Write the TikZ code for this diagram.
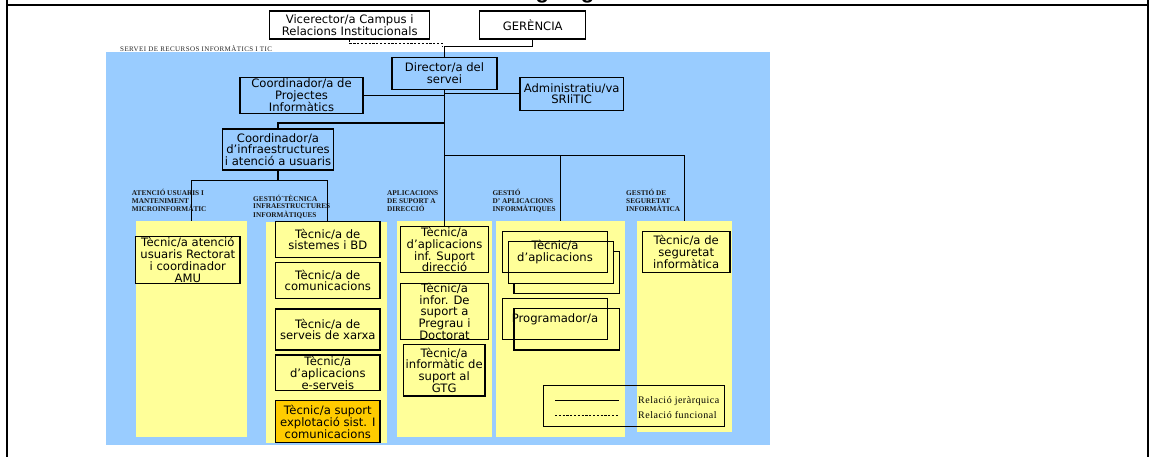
\documentclass[tikz,border=0pt]{standalone}
\usepackage{fontspec}
\setmainfont{Liberation Serif}
\newfontfamily\postfont{DejaVu Sans}
\newfontfamily\capfont{Liberation Serif}
\newfontfamily\servicefont[LetterSpace=6]{Liberation Serif}
\newfontfamily\legendfont[LetterSpace=5]{Liberation Serif}
\newfontfamily\headingfont{Liberation Sans}

\definecolor{areablue}{HTML}{99CCFF}
\definecolor{colyellow}{HTML}{FFFF99}
\definecolor{supportorange}{HTML}{FFCC00}

\tikzset{
  pageframe/.style={line width=2pt, draw=black},
  area/.style={fill=areablue, draw=none, inner sep=0pt},
  column/.style={fill=colyellow, draw=none, inner sep=0pt},
  post/.style={draw=black, line width=1.2pt, inner sep=0pt},
  posttext/.style={align=center, inner sep=0pt, text=black,
    font=\postfont\fontsize{11.6}{11.8}\selectfont},
  link/.style={draw=black, line width=1.1pt},
  func/.style={link, dash pattern=on 2.2pt off 1.6pt},
  colhead/.style={anchor=base west, inner sep=0pt, text=black!90,
    font=\capfont\bfseries\fontsize{7.3}{7.8}\selectfont},
  legendtext/.style={anchor=base west, inner sep=0pt, text=black,
    font=\legendfont\fontsize{10}{12}\selectfont},
}

% framed post: name, centre x, centre y, width, height, text
\newcommand\orgbox[7][]{%
  \node[post,#1,minimum width=#5pt,minimum height=#6pt] (#2) at (#3,#4) {};
  \node[posttext] (#2-txt) at (#2) {#7};
}
\newcommand\headlines[1]{\begin{tabular}[t]{@{}l@{}}#1\end{tabular}}

\begin{document}
\begin{tikzpicture}[x=1pt,y=-1pt]
\useasboundingbox (0,0) rectangle (1150,457);

% heading row of the table cell
\begin{scope}
  \clip (0,0) rectangle (1150,457);
  \node[anchor=base west, inner sep=0pt,
    font=\headingfont\bfseries\fontsize{22}{24}\selectfont] (title) at (509.8,-1.2) {Organigrama};
\end{scope}
\draw[pageframe] (6.5,0) -- (6.5,457);
\draw[pageframe] (1147.5,0) -- (1147.5,457);
\draw[pageframe] (6.5,5) -- (1147.5,5);

% service area and its label
\node[area, minimum width=664pt, minimum height=393pt] (service) at (438,248.5) {};
\node[anchor=base west, inner sep=0pt, text=black!85,
  font=\servicefont\fontsize{7}{8}\selectfont] (servicelabel) at (120,51.3)
  {SERVEI DE RECURSOS INFORMÀTICS I TIC};

% unit columns
\node[column, minimum width=111pt, minimum height=216pt] (col1) at (191.5,329) {};
\node[column, minimum width=120.7pt, minimum height=221.6pt] (col2) at (326.3,332.5) {};
\node[column, minimum width=94.4pt, minimum height=215.7pt] (col3) at (444.5,328.8) {};
\node[column, minimum width=129pt, minimum height=215.7pt] (col4) at (560.5,328.8) {};
\node[column, minimum width=94.4pt, minimum height=210.7pt] (col5) at (684.5,326.3) {};

% unit headings
\node[colhead] (h1) at (131.7,195.3) {\headlines{ATENCIÓ USUARIS I\\MANTENIMENT\\MICROINFORMÀTIC}};
\node[colhead] (h2) at (253,201) {\headlines{GESTIÓ´TÈCNICA\\INFRAESTRUCTURES\\INFORMÀTIQUES}};
\node[colhead] (h3) at (387,195.3) {\headlines{APLICACIONS\\DE SUPORT A\\DIRECCIÓ}};
\node[colhead] (h4) at (492.3,195.3) {\headlines{GESTIÓ\\D’ APLICACIONS\\INFORMÀTIQUES}};
\node[colhead] (h5) at (626,195.3) {\headlines{GESTIÓ DE\\SEGURETAT\\INFORMÀTICA}};

% top of the hierarchy
\orgbox{vice}{349.7}{25}{160}{28}{Vicerector/a Campus i\\Relacions Institucionals}
\orgbox{ger}{532.7}{25}{106}{28}{GERÈNCIA}
\orgbox{dir}{444.5}{73.3}{105}{32}{Director/a del\\servei}
\orgbox{adm}{571.7}{93.7}{103.3}{33}{Administratiu/va\\SRIiTIC}
\orgbox{cproj}{301.5}{95.3}{123}{36}{Coordinador/a de\\Projectes\\Informàtics}
\orgbox{cinf}{278}{149.5}{110.7}{41}{Coordinador/a\\d’infraestructures\\i atenció a usuaris}

% user support
\orgbox{amu}{187.8}{260}{104.3}{46.7}{Tècnic/a atenció\\usuaris Rectorat\\i coordinador\\AMU}

% infrastructure management
\orgbox{sis}{327.8}{239.5}{104.3}{35.7}{Tècnic/a de\\sistemes i BD}
\orgbox{com}{327.8}{280.5}{104.3}{35.7}{Tècnic/a de\\comunicacions}
\orgbox{xar}{327.8}{329.5}{104.3}{41}{Tècnic/a de\\serveis de xarxa}
\orgbox{eser}{327.8}{372.8}{104.3}{35.7}{Tècnic/a\\d’aplicacions\\e-serveis}
\orgbox[fill=supportorange]{expl}{327.8}{421.7}{104.3}{42}{Tècnic/a suport\\explotació sist. I\\comunicacions}

% management applications
\orgbox{sup1}{444.5}{249.7}{87.7}{46}{Tècnic/a\\d’aplicacions\\inf. Suport\\direcció}
\orgbox{sup2}{444.5}{311.3}{87.7}{56}{Tècnic/a\\infor. De\\suport a\\Pregrau i\\Doctorat}
\orgbox{sup3}{444.2}{370.2}{81.7}{51.7}{Tècnic/a\\informàtic de\\suport al\\GTG}

% application management (stacked posts)
\node[post, fill=colyellow, minimum width=105.3pt, minimum height=41.7pt] (appC) at (566.7,272.5) {};
\node[post, fill=colyellow, minimum width=105pt, minimum height=41.7pt] (appB) at (560.8,262.5) {};
\orgbox{appA}{555}{252.2}{105.3}{41}{Tècnic/a\\d’aplicacions}
\node[post, minimum width=105.3pt, minimum height=41.7pt] (progE) at (566.7,329.2) {};
\orgbox{progD}{555}{318.8}{105.3}{41}{Programador/a}

% security
\orgbox{seg}{686.2}{252.2}{87.7}{41}{Tècnic/a de\\seguretat\\informàtica}

% connectors
\coordinate (funcbar) at (0,43.5);
\coordinate (funcend) at (442.3,47.5);
\draw[func] (vice.south) |- (funcend |- funcbar) -- (funcend);
\coordinate (topbar) at (0,46.7);
\draw[link] (ger.south) |- (dir.north |- topbar) -- (dir.north);
\draw[link] (dir.south) -- (sup1.north);
\draw[link] (adm.west) -- (adm.west -| dir.south);
\draw[link] (cproj.east) -- (cproj.east -| dir.south);
\coordinate (infbar) at (0,123);
\draw[link] (cinf.north) |- (dir.south |- infbar);
\coordinate (rbar) at (0,155.3);
\draw[link] (dir.south |- rbar) -| (col5.north);
\draw[link] (col4.north) -- (col4.north |- rbar);
\coordinate (lbar) at (0,180.5);
\draw[link] (cinf.south) -- (cinf.south |- lbar);
\draw[link] (col1.north) |- (sis.north |- lbar) -- (sis.north);

% legend
\node[post, line width=1.1pt, minimum width=181pt, minimum height=41pt] (legend) at (633.8,406.2) {};
\coordinate (hierA) at (555,400.7);
\coordinate (hierB) at (619.3,400.7);
\coordinate (funcA) at (555,415.7);
\coordinate (funcB) at (619.3,415.7);
\draw[link] (hierA) -- (hierB);
\draw[func] (funcA) -- (funcB);
\node[legendtext] (hiertxt) at (638,403.7) {Relació jeràrquica};
\node[legendtext] (functxt) at (638,418.7) {Relació funcional};
\end{tikzpicture}
\end{document}
